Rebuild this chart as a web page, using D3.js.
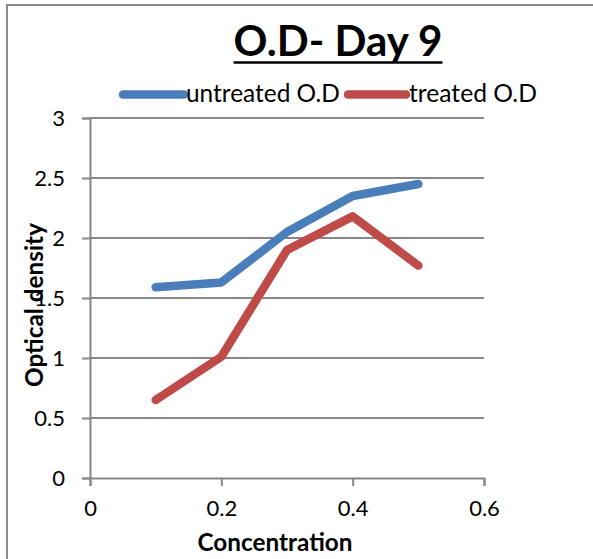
<!DOCTYPE html>
<html>
<head>
<meta charset="utf-8">
<script src="https://cdnjs.cloudflare.com/ajax/libs/d3/7.8.5/d3.min.js"></script>
<style>
  html, body { margin: 0; padding: 0; background: #fff; }
  svg { display: block; }
  text { font-family: Lato, "Open Sans", sans-serif; fill: #000; }
</style>
</head>
<body>
<script>
// Concentrations and optical density readings (day 9)
const concentrations = [0.1, 0.2, 0.3, 0.4, 0.5];
const untreatedOD = [1.59, 1.63, 2.05, 2.35, 2.45];
const treatedOD = [0.65, 1.01, 1.90, 2.18, 1.77];
const seriesNames = ["untreated O.D", "treated O.D"];
const xTicks = [0, 0.2, 0.4, 0.6];
const yTicks = [0, 0.5, 1, 1.5, 2, 2.5, 3];
const titleText = "O.D- Day 9";
const xTitle = "Concentration";
const yTitle = "Optical density";

const W = 593, H = 559;
const colors = ["#4a7ebb", "#be4b48"];
const gridColor = "#878787";

const svg = d3.select("body").append("svg").attr("width", W).attr("height", H);

// outer chart frame (continues past the right and bottom edges)
svg.append("rect").attr("x", 7).attr("y", 5).attr("width", 700).attr("height", 700)
  .attr("fill", "#fff").attr("stroke", "#8a8a8a").attr("stroke-width", 2);

const x = d3.scaleLinear().domain([0, 0.6]).range([90, 484]);
const y = d3.scaleLinear().domain([0, 3]).range([478, 118]);

// scale a text element's font so that it spans a given width
function fit(sel, width) {
  const fs = parseFloat(sel.attr("font-size"));
  const w = sel.node().getComputedTextLength();
  sel.attr("font-size", (fs * width / w).toFixed(2));
  return sel;
}

// horizontal gridlines
svg.append("g").selectAll("line").data(yTicks.filter(d => d > 0)).join("line")
  .attr("x1", x(0)).attr("x2", x(0.6))
  .attr("y1", d => y(d)).attr("y2", d => y(d))
  .attr("stroke", gridColor).attr("stroke-width", 2);

// y axis
const yAxis = svg.append("g").attr("transform", `translate(${x(0)},0)`)
  .call(d3.axisLeft(y).tickValues(yTicks).tickSize(8).tickPadding(17).tickFormat(d3.format("")));
// x axis
const xAxis = svg.append("g").attr("transform", `translate(0,${y(0)})`)
  .call(d3.axisBottom(x).tickValues(xTicks).tickSize(8).tickPadding(14).tickFormat(d3.format("")));

[yAxis, xAxis].forEach(g => {
  g.select(".domain").attr("stroke", gridColor).attr("stroke-width", 2);
  g.selectAll(".tick line").attr("stroke", gridColor).attr("stroke-width", 2);
  g.selectAll(".tick text").attr("font-family", "Lato, sans-serif")
    .attr("font-size", 22).attr("fill", "#000");
});
xAxis.selectAll(".tick text").attr("dy", "0.71em");

// series lines
const line = d3.line().x((d, i) => x(concentrations[i])).y(d => y(d));
[untreatedOD, treatedOD].forEach((vals, k) => {
  svg.append("path").datum(vals).attr("d", line)
    .attr("fill", "none").attr("stroke", colors[k]).attr("stroke-width", 8.5)
    .attr("stroke-linecap", "round").attr("stroke-linejoin", "round");
});

// title with underline
const title = svg.append("text").attr("x", 338).attr("y", 56)
  .attr("text-anchor", "middle").attr("font-weight", "bold").attr("font-size", 38)
  .text(titleText);
fit(title, 209);
const tb = title.node().getBBox();
svg.append("line").attr("x1", tb.x).attr("x2", tb.x + tb.width)
  .attr("y1", 62.5).attr("y2", 62.5).attr("stroke", "#000").attr("stroke-width", 2.5);

// legend
const legend = [
  { x1: 123, x2: 184, tx: 186, tw: 154 },
  { x1: 348, x2: 406, tx: 409, tw: 128 }
];
legend.forEach((L, k) => {
  svg.append("line").attr("x1", L.x1).attr("x2", L.x2).attr("y1", 94.5).attr("y2", 94.5)
    .attr("stroke", colors[k]).attr("stroke-width", 8.5).attr("stroke-linecap", "round");
  const t = svg.append("text").attr("x", L.tx).attr("y", 102).attr("font-size", 20)
    .text(seriesNames[k]);
  fit(t, L.tw);
});

// axis titles
const xt = svg.append("text").attr("x", 275).attr("y", 551).attr("text-anchor", "middle")
  .attr("font-weight", "bold").attr("font-size", 22).text(xTitle);
fit(xt, 155);
const yt = svg.append("text").attr("transform", "translate(43,305) rotate(-90)")
  .attr("text-anchor", "middle").attr("font-weight", "bold").attr("font-size", 22).text(yTitle);
fit(yt, 164);
</script>
</body>
</html>
